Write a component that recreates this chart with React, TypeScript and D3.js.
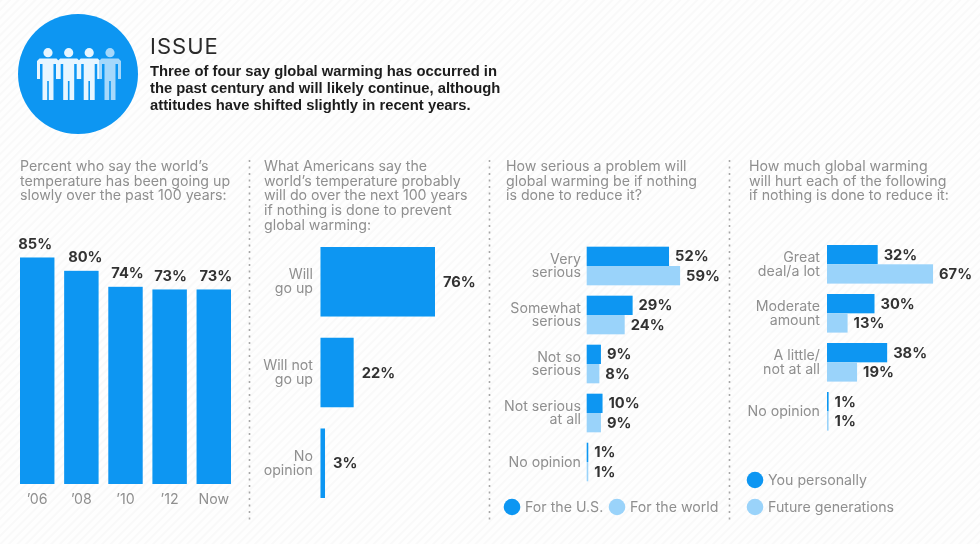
import { useRef, useEffect } from 'react';
import * as d3 from 'd3';

const yearLabels = ['’06', '’08', '’10', '’12', 'Now'];
const yearValues = [85, 80, 74, 73, 73];

const outlookLabels = ['Will\ngo up', 'Will not\ngo up', 'No\nopinion'];
const outlookValues = [76, 22, 3];

const seriousLabels = ['Very\nserious', 'Somewhat\nserious', 'Not so\nserious', 'Not serious\nat all', 'No opinion'];
const seriousUS = [52, 29, 9, 10, 1];
const seriousWorld = [59, 24, 8, 9, 1];

const hurtLabels = ['Great\ndeal/a lot', 'Moderate\namount', 'A little/\nnot at all', 'No opinion'];
const hurtYou = [32, 30, 38, 1];
const hurtFuture = [67, 13, 19, 1];

const headerLines = [
  'Three of four say global warming has occurred in',
  'the past century and will likely continue, although',
  'attitudes have shifted slightly in recent years.'
];
const questions = [
  ['Percent who say the world’s', 'temperature has been going up', 'slowly over the past 100 years:'],
  ['What Americans say the', 'world’s temperature probably', 'will do over the next 100 years', 'if nothing is done to prevent', 'global warming:'],
  ['How serious a problem will', 'global warming be if nothing', 'is done to reduce it?'],
  ['How much global warming', 'will hurt each of the following', 'if nothing is done to reduce it:']
];

const BLUE = '#0a96f2';
const LIGHT = '#9ad3fa';
const GREY = '#8f8f8f';
const DARK = '#333333';
const FONT = 'Inter, sans-serif';

const App = () => {
  const svgRef = useRef<SVGSVGElement>(null);

  useEffect(() => {
    if (!svgRef.current) return;
    const svg = d3.select(svgRef.current);
    svg.selectAll('*').remove();

    // Faint diagonal hatch of the background and a little softening like the source image
    const defs = svg.append('defs');
    const hatch = defs.append('pattern')
      .attr('id', 'hatch')
      .attr('width', 6)
      .attr('height', 6)
      .attr('patternUnits', 'userSpaceOnUse')
      .attr('patternTransform', 'rotate(-45)');
    hatch.append('rect').attr('width', 6).attr('height', 6).attr('fill', '#fefefe');
    hatch.append('rect').attr('width', 6).attr('height', 2).attr('fill', '#f9f9f9');
    defs.append('filter').attr('id', 'soft')
      .append('feGaussianBlur').attr('stdDeviation', 0.45);

    svg.append('rect').attr('width', 980).attr('height', 544).attr('fill', 'url(#hatch)');
    const root = svg.append('g').attr('filter', 'url(#soft)');

    // One text element per block, a tspan per line
    const block = (x: number, y: number, lines: string[], leading: number, anchor = 'start') => {
      const t = root.append('text')
        .attr('x', x)
        .attr('y', y)
        .attr('text-anchor', anchor);
      lines.forEach((line, i) => {
        t.append('tspan')
          .attr('x', x)
          .attr('dy', i === 0 ? 0 : leading)
          .text(line);
      });
      return t;
    };

    // Header badge
    root.append('circle').attr('cx', 78).attr('cy', 74).attr('r', 60).attr('fill', BLUE);
    const figures = root.selectAll('.figure')
      .data([48, 68.7, 89.2, 110])
      .enter()
      .append('g')
      .attr('transform', d => `translate(${d}, 0)`)
      .attr('fill', (d, i) => (i === 3 ? '#a5d8fb' : '#e8f6ff'));
    figures.append('circle').attr('cy', 52.7).attr('r', 4.6);
    figures.append('path')
      .attr('d', 'M-8.5 58.5H8.5L11 61V79H8V64H5.5V100H0.8V81H-0.8V100H-5.5V64H-8V79H-11V61Z');

    root.append('text')
      .attr('x', 150).attr('y', 53.5)
      .attr('font-family', FONT).attr('font-size', 22).attr('fill', '#2b2b2b')
      .attr('letter-spacing', 1)
      .text('ISSUE');
    block(150, 76, headerLines, 17.2)
      .attr('font-family', '"Liberation Sans", sans-serif')
      .attr('font-size', 14.8)
      .attr('font-weight', 'bold')
      .attr('fill', '#1c1c1c');

    // Question text above every panel
    const questionX = [20, 264, 506, 749];
    questions.forEach((lines, q) => {
      block(questionX[q], 171, lines, 14.7)
        .attr('font-family', FONT)
        .attr('font-size', 14.2)
        .attr('fill', GREY);
    });

    // Dotted dividers
    [249.5, 489.5, 729.5].forEach(x => {
      root.append('line')
        .attr('x1', x).attr('x2', x)
        .attr('y1', 160).attr('y2', 520)
        .attr('stroke', '#a8a8a8')
        .attr('stroke-width', 1.6)
        .attr('stroke-dasharray', '2,4.5');
    });

    const valueLabel = (sel: any) => sel
      .attr('font-family', FONT)
      .attr('font-size', 14.7)
      .attr('font-weight', 700)
      .attr('fill', DARK)
      .attr('dy', '0.35em');

    const catLabel = (xRight: number, yCenter: (i: number) => number, cats: string[]) => {
      cats.forEach((c, i) => {
        const lines = c.split('\n');
        const yFirst = yCenter(i) - 0.5 - ((lines.length - 1) / 2) * 13.6 + 5;
        block(xRight, yFirst, lines, 13.6, 'end')
          .attr('font-family', FONT)
          .attr('font-size', 14.2)
          .attr('fill', GREY);
      });
    };

    // Panel 1: columns
    const x1 = d3.scaleBand<string>().domain(yearLabels).range([20, 231]).paddingInner(0.22);
    const y1 = d3.scaleLinear().domain([0, 85]).range([484, 257.5]);
    const labelNudge = [-2, 4, 2, 1, 2];
    root.selectAll('.col')
      .data(yearValues)
      .enter()
      .append('rect')
      .attr('x', (d, i) => x1(yearLabels[i])!)
      .attr('y', d => y1(d))
      .attr('width', x1.bandwidth())
      .attr('height', d => y1(0) - y1(d))
      .attr('fill', BLUE);
    root.selectAll('.colv')
      .data(yearValues)
      .enter()
      .append('text')
      .attr('x', (d, i) => x1(yearLabels[i])! + x1.bandwidth() / 2 + labelNudge[i])
      .attr('y', d => y1(d) - 13.5)
      .attr('text-anchor', 'middle')
      .text(d => `${d}%`)
      .call(valueLabel);
    root.selectAll('.colt')
      .data(yearLabels)
      .enter()
      .append('text')
      .attr('x', d => x1(d)! + x1.bandwidth() / 2)
      .attr('y', 499)
      .attr('dy', '0.35em')
      .attr('text-anchor', 'middle')
      .attr('font-family', FONT)
      .attr('font-size', 14.2)
      .attr('fill', GREY)
      .text(d => d);

    // Panel 2: single series bars
    const y2 = d3.scaleBand<string>().domain(outlookLabels).range([247, 498]).paddingInner(0.234);
    const x2 = d3.scaleLinear().domain([0, 76]).range([320.5, 435]);
    root.selectAll('.out')
      .data(outlookValues)
      .enter()
      .append('rect')
      .attr('x', x2(0))
      .attr('y', (d, i) => y2(outlookLabels[i])!)
      .attr('width', d => x2(d) - x2(0))
      .attr('height', y2.bandwidth())
      .attr('fill', BLUE);
    root.selectAll('.outv')
      .data(outlookValues)
      .enter()
      .append('text')
      .attr('x', d => x2(d) + 8)
      .attr('y', (d, i) => y2(outlookLabels[i])! + y2.bandwidth() / 2)
      .text(d => `${d}%`)
      .call(valueLabel);
    catLabel(313, i => y2(outlookLabels[i])! + y2.bandwidth() / 2, outlookLabels);

    // Panels 3 and 4: paired bars
    const paired = (cats: string[], a: number[], b: number[], x0: number, top: number, textRight: number) => {
      const y = d3.scaleBand<string>().domain(cats).range([top, top + 49 * (cats.length - 0.212)]).paddingInner(0.212);
      const inner = d3.scaleBand<string>().domain(['a', 'b']).range([0, y.bandwidth()]);
      const x = d3.scaleLinear().domain([0, 100]).range([x0, x0 + 158.3]);
      const g = root.append('g');
      [a, b].forEach((vals, s) => {
        const key = s === 0 ? 'a' : 'b';
        g.selectAll(`.bar-${key}`)
          .data(vals)
          .enter()
          .append('rect')
          .attr('x', x(0))
          .attr('y', (d, i) => y(cats[i])! + inner(key)!)
          .attr('width', d => x(d) - x(0))
          .attr('height', inner.bandwidth())
          .attr('fill', s === 0 ? BLUE : LIGHT);
        g.selectAll(`.val-${key}`)
          .data(vals)
          .enter()
          .append('text')
          .attr('x', d => x(d) + 6)
          .attr('y', (d, i) => y(cats[i])! + inner(key)! + inner.bandwidth() / 2)
          .text(d => `${d}%`)
          .call(valueLabel);
      });
      catLabel(textRight, i => y(cats[i])! + y.bandwidth() / 2, cats);
    };
    paired(seriousLabels, seriousUS, seriousWorld, 586.7, 246.7, 581);
    paired(hurtLabels, hurtYou, hurtFuture, 827, 245, 820);

    // Legends
    const legend = (cx: number, cy: number, color: string, label: string) => {
      root.append('circle').attr('cx', cx).attr('cy', cy).attr('r', 8.3).attr('fill', color);
      root.append('text')
        .attr('x', cx + 13)
        .attr('y', cy)
        .attr('dy', '0.35em')
        .attr('font-family', FONT)
        .attr('font-size', 14.2)
        .attr('fill', GREY)
        .text(label);
    };
    legend(512, 507, BLUE, 'For the U.S.');
    legend(617, 507, LIGHT, 'For the world');
    legend(755, 480, BLUE, 'You personally');
    legend(755, 507, LIGHT, 'Future generations');
  }, []);

  return (
    <svg
      ref={svgRef}
      width={980}
      height={544}
      style={{ position: 'absolute', left: 0, top: 0 }}
    />
  );
};

export default App;
